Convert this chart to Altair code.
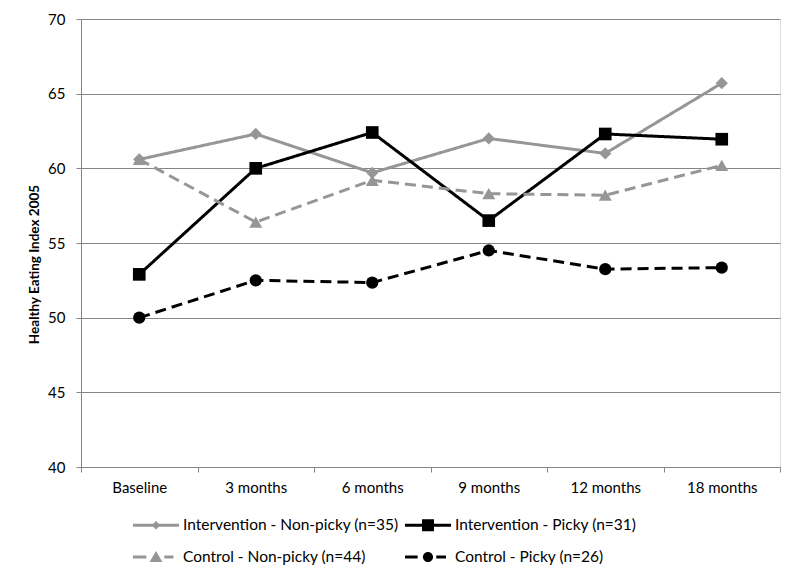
import altair as alt
import pandas as pd

categories = ["Baseline", "3 months", "6 months", "9 months", "12 months", "18 months"]
series_names = [
    "Intervention - Non-picky (n=35)",
    "Intervention - Picky (n=31)",
    "Control - Non-picky (n=44)",
    "Control - Picky (n=26)",
]
int_nonpicky = [60.6, 62.3, 59.7, 62.0, 61.0, 65.7]
int_picky = [52.9, 60.0, 62.4, 56.5, 62.3, 61.95]
ctl_nonpicky = [60.6, 56.4, 59.2, 58.3, 58.2, 60.2]
ctl_picky = [50.0, 52.5, 52.35, 54.5, 53.25, 53.35]

series_values = [int_nonpicky, int_picky, ctl_nonpicky, ctl_picky]
series_colors = ["#969696", "#000000", "#969696", "#000000"]
series_dash = [[1, 0], [1, 0], [11, 6], [11, 6]]
series_shapes = ["diamond", "square", "triangle-up", "circle"]
series_sizes = [150, 160, 170, 150]

# legend symbols: line + marker (Excel style)
legend_paths = [
    "M-1,-0.065H1V0.065H-1Z M0,-0.19L0.19,0L0,0.19L-0.19,0Z",
    "M-1,-0.065H1V0.065H-1Z M-0.26,-0.26H0.26V0.26H-0.26Z",
    "M-1,-0.065H-0.42V0.065H-1Z M0.36,-0.065H0.76V0.065H0.36Z M0,-0.26L0.28,0.22L-0.28,0.22Z",
    "M-1,-0.065H-0.45V0.065H-1Z M0.36,-0.065H0.78V0.065H0.36Z M-0.22,0A0.22,0.22 0 1,1 0.22,0A0.22,0.22 0 1,1 -0.22,0Z",
]

rows = []
for name, vals in zip(series_names, series_values):
    for cat, v in zip(categories, vals):
        rows.append({"series": name, "time": cat, "value": v})
df = pd.DataFrame(rows)

FONT = "Lato"

x_enc = alt.X(
    "time:N",
    sort=categories,
    title=None,
    scale=alt.Scale(type="band", paddingInner=0, paddingOuter=0),
    axis=alt.Axis(
        tickBand="extent",
        labelAngle=0,
        labelFontSize=15,
        labelColor="#000000",
        labelPadding=8,
        tickSize=5,
        tickColor="#868686",
        domainColor="#868686",
        grid=False,
    ),
)
y_enc = alt.Y(
    "value:Q",
    scale=alt.Scale(domain=[40, 70], nice=False, zero=False),
    axis=alt.Axis(
        values=[40, 45, 50, 55, 60, 65, 70],
        title="Healthy Eating Index 2005",
        titleFontSize=13.5,
        titleFontWeight="bold",
        titleColor="#000000",
        titleX=-47,
        titleY=245,
        titleAngle=270,
        titleAlign="center",
        titleBaseline="middle",
        labelFontSize=15,
        labelColor="#000000",
        labelPadding=11,
        tickSize=5,
        tickColor="#868686",
        domainColor="#868686",
        gridColor="#868686",
        gridWidth=1,
    ),
)

line_layers = []
point_layers = []
for name, col, dash, shp, sz in zip(series_names, series_colors, series_dash, series_shapes, series_sizes):
    base = alt.Chart(df).transform_filter(alt.datum.series == name)
    line_layers.append(
        base.mark_line(strokeWidth=3, color=col, strokeDash=dash).encode(x=x_enc, y=y_enc)
    )
    point_layers.append(
        base.mark_point(filled=True, opacity=1, size=sz, shape=shp, color=col).encode(x=x_enc, y=y_enc)
    )

legend_props = dict(
    title=None,
    orient="none",
    direction="horizontal",
    legendX=52,
    legendY=483,
    columns=2,
    columnPadding=6,
    rowPadding=-17,
    labelFontSize=15.5,
    labelColor="#000000",
    labelFont=FONT,
    labelOffset=4,
    symbolSize=2116,
    symbolOpacity=1,
    symbolStrokeWidth=0,
    labelLimit=400,
)

legend_layer = alt.Chart(df).mark_point(filled=True, opacity=0).encode(
    x=x_enc,
    y=y_enc,
    color=alt.Color(
        "series:N",
        scale=alt.Scale(domain=series_names, range=series_colors),
        sort=series_names,
        legend=alt.Legend(**legend_props),
    ),
    shape=alt.Shape(
        "series:N",
        scale=alt.Scale(domain=series_names, range=legend_paths),
        sort=series_names,
        legend=alt.Legend(**legend_props),
    ),
)

chart = (
    alt.layer(*line_layers, *point_layers, legend_layer)
    .properties(
        width=699,
        height=448,
        autosize=alt.AutoSizeParams(type="none"),
        padding={"left": 73, "top": 11, "right": 12, "bottom": 105},
    )
    .configure_view(stroke=None)
    .configure(font=FONT)
)

chart.save("out.html", embed_options={"renderer": "svg", "actions": False})
